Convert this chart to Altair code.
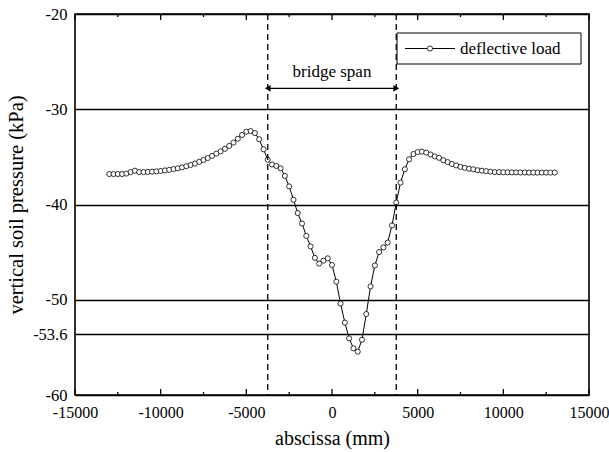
import altair as alt
import pandas as pd

# abscissa sampling (mm) and measured vertical soil pressure (kPa)
abscissa = list(range(-13000, 13001, 250))
pressure = [
    -36.80, -36.80, -36.80, -36.80, -36.75, -36.60, -36.45, -36.60, -36.60, -36.58,
    -36.55, -36.52, -36.48, -36.42, -36.36, -36.28, -36.20, -36.10, -35.98, -35.85,
    -35.70, -35.52, -35.32, -35.12, -34.90, -34.66, -34.42, -34.15, -33.85, -33.50,
    -33.10, -32.70, -32.35,
    -32.28, -32.50, -33.15, -34.20, -35.30, -35.80, -35.95, -36.20, -37.00, -38.10,
    -39.50, -40.90, -42.00, -43.30, -44.40, -45.60, -46.20, -45.90, -45.65, -46.35,
    -48.10, -50.40, -52.40, -54.05, -55.10, -55.45, -54.20, -51.50, -48.60, -46.40,
    -45.00, -44.50, -44.00, -42.20, -39.80, -37.70, -36.30, -35.25, -34.70, -34.50,
    -34.45, -34.55, -34.75, -34.95, -35.10, -35.35, -35.55, -35.75, -35.90, -36.05,
    -36.15, -36.25, -36.30, -36.40, -36.45, -36.50, -36.55, -36.60, -36.60, -36.62,
    -36.62, -36.63, -36.63, -36.64, -36.64, -36.65, -36.65, -36.65, -36.65, -36.65,
    -36.65, -36.65,
]
span_edges = [-3750, 3750]
y_ticks = [-60, -53.6, -50, -40, -30, -20]
x_major = [-15000, -10000, -5000, 0, 5000, 10000, 15000]
x_minor = [-12500, -7500, -2500, 2500, 7500, 12500]
series_name = "deflective load"
span_label = "bridge span"

W, H = 514, 381
FONT = "Liberation Serif, Times New Roman, Times, serif"

df = pd.DataFrame({"x": abscissa, "y": pressure})
span_df = pd.DataFrame({"x": span_edges})
arrow_df = pd.DataFrame({"x": [span_edges[0]], "x2": [span_edges[1]], "y": [-27.8]})
head_df = pd.DataFrame({"x": span_edges, "y": [-27.8, -27.8],
                        "shape": ["triangle-left", "triangle-right"]})
text_df = pd.DataFrame({"x": [sum(span_edges) / 2], "y": [-26.1], "t": [span_label]})
major_df = pd.DataFrame({"v": x_major})
minor_df = pd.DataFrame({"v": x_minor})
one = pd.DataFrame({"t": [series_name]})

xs = alt.Scale(domain=[-15000, 15000], nice=False, zero=False)
ys = alt.Scale(domain=[-60, -20], nice=False, zero=False)

line = alt.Chart(df).mark_line(color="black", strokeWidth=1).encode(
    x=alt.X("x:Q", scale=xs, axis=alt.Axis(
        values=x_major, labelExpr="datum.value + ''", ticks=False, tickSize=0,
        domain=False, grid=False, labelFlush=False, labelOverlap=False,
        labelFontSize=16, labelColor="black", labelPadding=9,
        title="abscissa (mm)", titleFontSize=20, titleFontWeight="normal",
        titleColor="black", titlePadding=8)),
    y=alt.Y("y:Q", scale=ys, axis=alt.Axis(
        values=y_ticks, labelExpr="datum.value + ''", ticks=False, tickSize=0,
        domain=False, grid=True, gridColor="black", gridWidth=1.3, gridOpacity=1,
        labelFlush=False, labelOverlap=False,
        labelFontSize=16.5, labelColor="black", labelPadding=8,
        title="vertical soil pressure (kPa)", titleFontSize=20.5,
        titleFontWeight="normal", titleColor="black", titlePadding=6)),
)

points = alt.Chart(df).mark_point(shape="circle", filled=True, fill="white",
                                  stroke="black", strokeWidth=0.8, size=26, opacity=1).encode(
    x=alt.X("x:Q", scale=xs, axis=None),
    y=alt.Y("y:Q", scale=ys, axis=None),
)


def ticks(data, length, top):
    if top:
        yy, yy2 = alt.value(0), alt.value(length)
    else:
        yy, yy2 = alt.value(H), alt.value(H - length)
    return alt.Chart(data).mark_rule(color="black", strokeWidth=1.3).encode(
        x=alt.X("v:Q", scale=xs, axis=None), y=yy, y2=yy2)


tick_layers = [ticks(major_df, 6, False), ticks(minor_df, 3, False),
               ticks(major_df, 6, True), ticks(minor_df, 3, True)]

dashed = alt.Chart(span_df).mark_rule(color="black", strokeWidth=1.3,
                                      strokeDash=[6, 4]).encode(
    x=alt.X("x:Q", scale=xs, axis=None),
)

arrow = alt.Chart(arrow_df).mark_rule(color="black", strokeWidth=1.3).encode(
    x=alt.X("x:Q", scale=xs, axis=None),
    x2="x2:Q",
    y=alt.Y("y:Q", scale=ys, axis=None),
)

heads = alt.Chart(head_df).mark_point(filled=True, color="black", size=45, opacity=1).encode(
    x=alt.X("x:Q", scale=xs, axis=None),
    y=alt.Y("y:Q", scale=ys, axis=None),
    shape=alt.Shape("shape:N", scale=None),
)

label = alt.Chart(text_df).mark_text(fontSize=17, color="black",
                                     baseline="middle", align="center").encode(
    x=alt.X("x:Q", scale=xs, axis=None),
    y=alt.Y("y:Q", scale=ys, axis=None),
    text="t:N",
)

leg_box = alt.Chart(one).mark_rect(fill="white", stroke="black", strokeWidth=1).encode(
    x=alt.value(322), x2=alt.value(506), y=alt.value(19), y2=alt.value(50))
leg_line = alt.Chart(one).mark_rule(color="black", strokeWidth=1).encode(
    x=alt.value(330), x2=alt.value(380), y=alt.value(34.5))
leg_pt = alt.Chart(one).mark_point(shape="circle", filled=True, fill="white",
                                   stroke="black", strokeWidth=0.8, size=26, opacity=1).encode(
    x=alt.value(355), y=alt.value(34.5))
leg_txt = alt.Chart(one).mark_text(fontSize=17, color="black", align="left",
                                   baseline="middle").encode(
    x=alt.value(385), y=alt.value(34.5), text="t:N")

chart = alt.layer(
    line, points, *tick_layers, dashed, arrow, heads, label,
    leg_box, leg_line, leg_pt, leg_txt
).resolve_axis(x="independent", y="independent").properties(
    width=W, height=H,
    autosize=alt.AutoSizeParams(type="none"),
    padding={"left": 75, "top": 14, "right": 20, "bottom": 57},
    background="white",
).configure(font=FONT).configure_axis(
    labelFont=FONT, titleFont=FONT
).configure_text(font=FONT).configure_view(stroke="black", strokeWidth=1.6)

chart.save("out.html", embed_options={"renderer": "svg", "actions": False})
